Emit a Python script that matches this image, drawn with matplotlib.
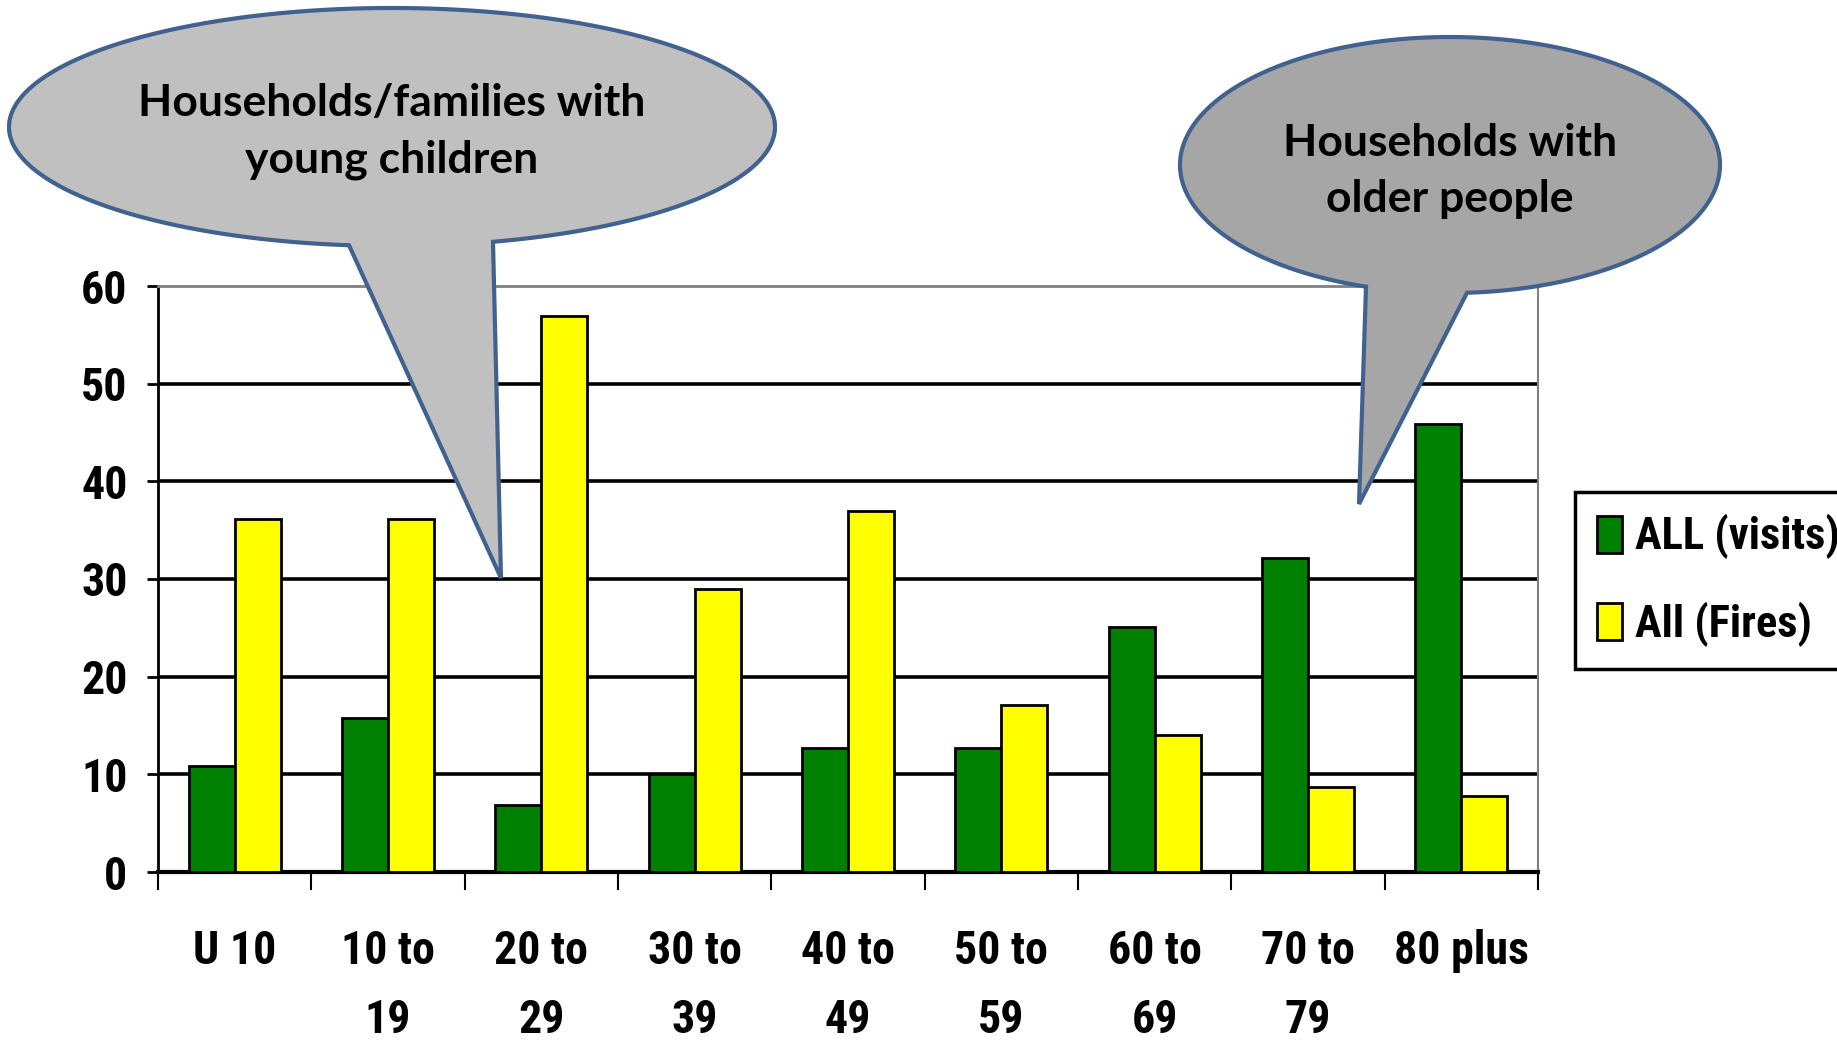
import numpy as np
import matplotlib
matplotlib.use("Agg")
import matplotlib.pyplot as plt
from matplotlib import font_manager
from matplotlib.patches import Polygon, Patch

# --- data ---
age_groups = ["U 10", "10 to\n19", "20 to\n29", "30 to\n39", "40 to\n49",
              "50 to\n59", "60 to\n69", "70 to\n79", "80 plus"]
visits = [10.9, 15.8, 6.9, 10.0, 12.7, 12.7, 25.1, 32.2, 45.9]
fires = [36.1, 36.1, 56.9, 29.0, 37.0, 17.1, 14.0, 8.7, 7.8]
series_names = ["ALL (visits)", "All (Fires)"]
callout_texts = ["Households/families with\nyoung children",
                 "Households with\nolder people"]

W, H = 1837, 1040

# pick a narrow font if one is around, Arial Narrow look-alike
installed = {f.name for f in font_manager.fontManager.ttflist}
NARROW, NARROW_STRETCH = "DejaVu Sans", "normal"
for name in ["Liberation Sans Narrow", "Arial Narrow", "Roboto Condensed",
             "Noto Sans Condensed", "Open Sans Condensed", "DejaVu Sans Condensed"]:
    if name in installed:
        NARROW = name
        break
else:
    cond = [f.name for f in font_manager.fontManager.ttflist
            if f.stretch in ("condensed", "semi-condensed", "extra-condensed")]
    if cond:
        NARROW, NARROW_STRETCH = cond[0], "condensed"
narrow_ok = NARROW != "DejaVu Sans"
tick_size = 33 if narrow_ok else 26

CALLOUT_FONT = ["Lato", "DejaVu Sans"]

fig = plt.figure(figsize=(W / 100, H / 100), dpi=100)
ax = fig.add_axes([158 / W, 1 - 872 / H, (1538 - 158) / W, (872 - 286) / H])

x = np.arange(len(age_groups))
w = 0.30
ax.bar(x - w / 2, visits, w, color="#008000", edgecolor="black", linewidth=2, zorder=3)
ax.bar(x + w / 2, fires, w, color="#FFFF00", edgecolor="black", linewidth=2, zorder=3)

ax.set_xlim(-0.5, len(age_groups) - 0.5)
ax.set_ylim(0, 60)
ax.set_yticks(range(0, 61, 10))
for yv in range(10, 60, 10):
    ax.axhline(yv, color="black", linewidth=2.6, zorder=1)

ax.spines["top"].set_color("#808080")
ax.spines["top"].set_linewidth(2)
ax.spines["right"].set_color("#808080")
ax.spines["right"].set_linewidth(1.5)
ax.spines["left"].set_linewidth(2)
ax.spines["bottom"].set_linewidth(3)

ax.set_xticks(x)
ax.set_xticklabels(age_groups, linespacing=1.72)
ax.set_xticks(np.arange(-0.5, len(age_groups), 1.0), minor=True)
ax.tick_params(axis="x", which="major", length=0, pad=41)
ax.tick_params(axis="x", which="minor", length=13, width=1.5, direction="out")
ax.tick_params(axis="y", length=8, width=2, pad=14)
for lab in ax.get_xticklabels() + ax.get_yticklabels():
    lab.set_fontfamily(NARROW)
    lab.set_fontstretch(NARROW_STRETCH)
    lab.set_fontweight("bold")
    lab.set_fontsize(tick_size)

handles = [Patch(facecolor="#008000", edgecolor="black", linewidth=2),
           Patch(facecolor="#FFFF00", edgecolor="black", linewidth=2)]
leg = fig.legend(handles, series_names, loc="upper left",
                 bbox_to_anchor=(1575 / W, 1 - 492 / H), borderaxespad=0,
                 prop={"family": NARROW, "stretch": NARROW_STRETCH, "weight": "bold",
                       "size": 32 if narrow_ok else 24},
                 fancybox=False, edgecolor="black", framealpha=1,
                 handlelength=0.55, handleheight=0.9, handletextpad=0.3,
                 labelspacing=0.95, borderpad=0.5)
leg.get_frame().set_linewidth(2.5)

# --- speech bubbles drawn in pixel coordinates ---
ov = fig.add_axes([0, 0, 1, 1], zorder=5)
ov.set_xlim(0, W)
ov.set_ylim(H, 0)
ov.axis("off")
ov.patch.set_alpha(0)


def bubble(cx, cy, a, b, x_left, x_right, tip, face):
    t1 = np.arccos((x_left - cx) / a)
    t2 = np.arccos((x_right - cx) / a) + 2 * np.pi
    t = np.linspace(t1, t2, 300)
    pts = np.column_stack([cx + a * np.cos(t), cy + b * np.sin(t)])
    pts = np.vstack([pts, tip])
    ov.add_patch(Polygon(pts, closed=True, facecolor=face,
                         edgecolor="#41628F", linewidth=3))


bubble(392, 127, 383, 119, 349, 493, (501, 578), "#C0C0C0")
bubble(1450, 165, 270, 128, 1366, 1467, (1359, 504), "#A6A6A6")

ov.text(392, 132, callout_texts[0], ha="center", va="center",
        fontsize=32, fontweight="bold", family=CALLOUT_FONT, linespacing=1.5)
ov.text(1450, 171, callout_texts[1], ha="center", va="center",
        fontsize=32, fontweight="bold", family=CALLOUT_FONT, linespacing=1.5)

fig.savefig("out.png", dpi=100)
